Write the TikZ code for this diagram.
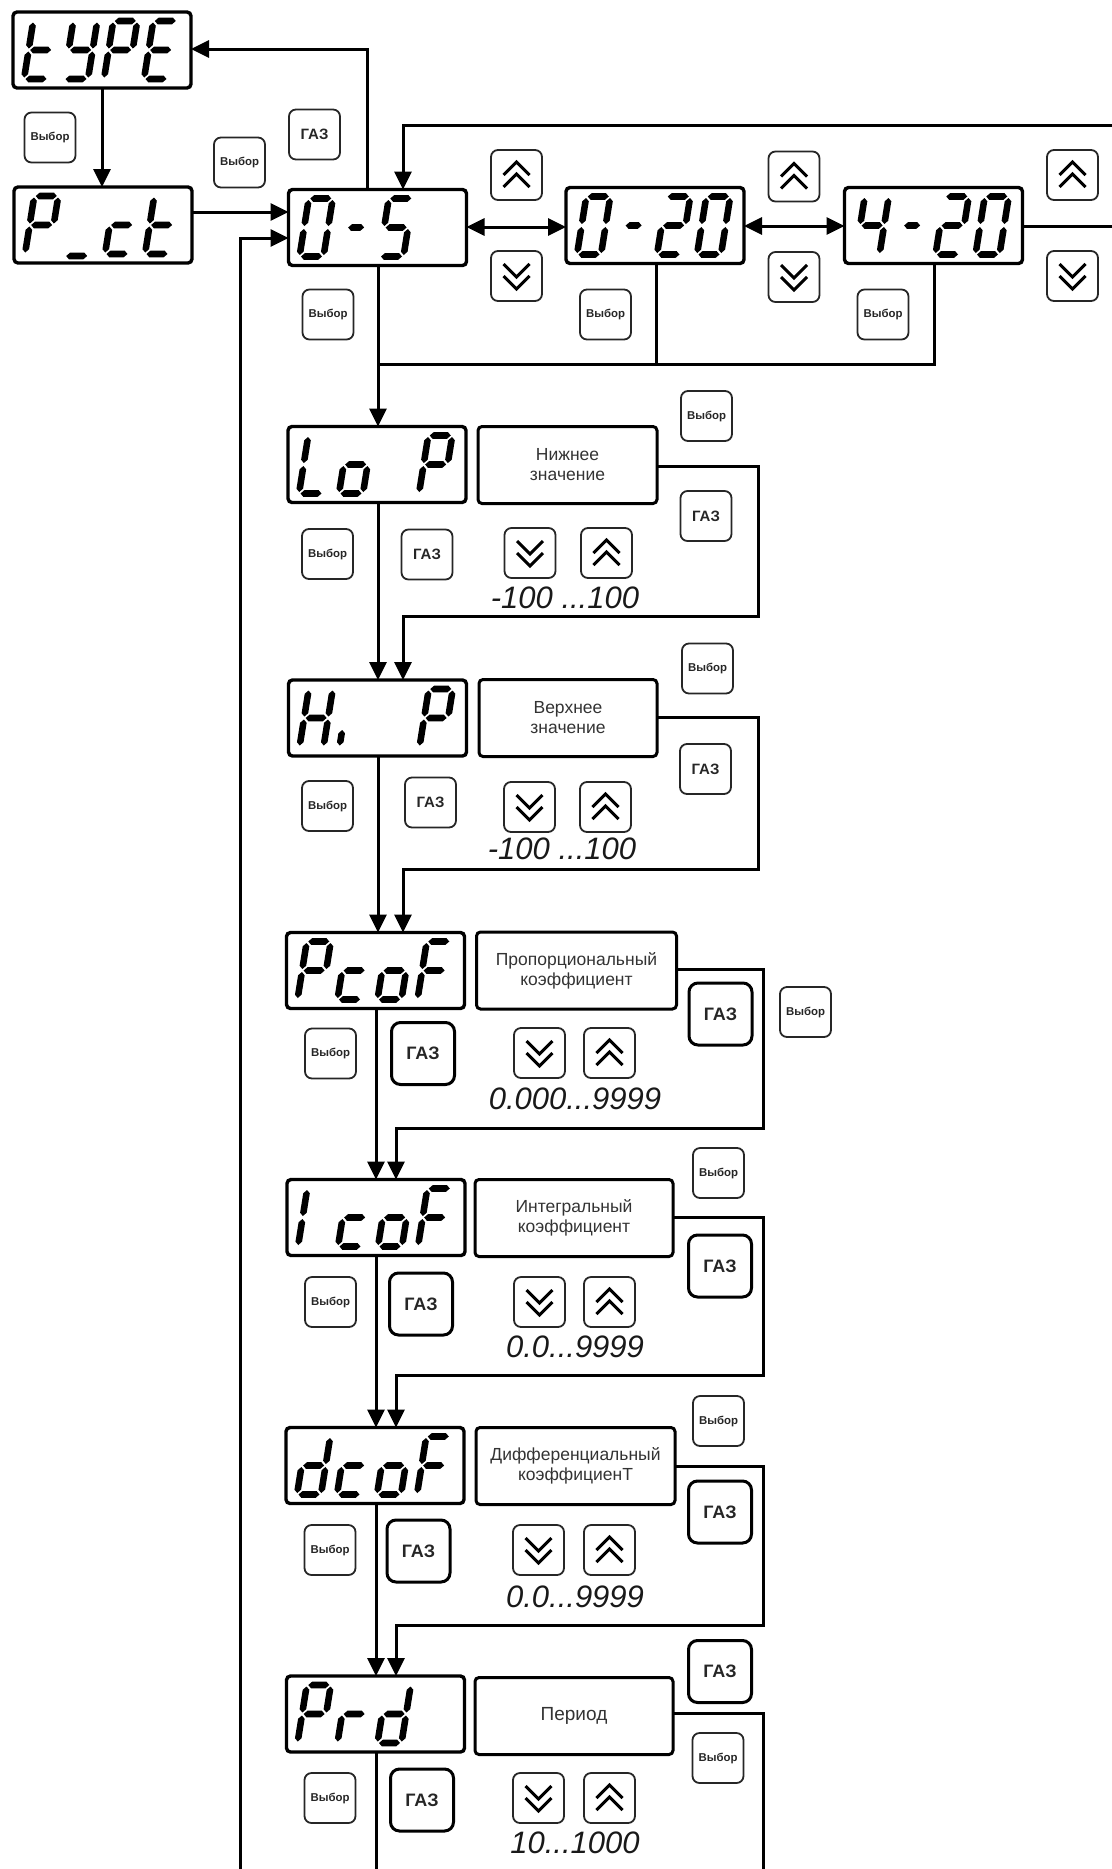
\documentclass[tikz,border=0pt]{standalone}
\usepackage{fontspec}
\setmainfont{Liberation Sans}
\usetikzlibrary{arrows.meta,calc}

% seven-segment pieces (local units: px, y up)
\newcommand\hseg[3]{\fill (#1,#3) -- (#1+3.3,#3+3.3) -- (#2-3.3,#3+3.3) -- (#2,#3) -- (#2-3.3,#3-3.3) -- (#1+3.3,#3-3.3) -- cycle;}
\newcommand\vseg[3]{\fill (#1,#2) -- (#1+3.3,#2+3.3) -- (#1+3.3,#3-3.3) -- (#1,#3) -- (#1-3.3,#3-3.3) -- (#1-3.3,#2+3.3) -- cycle;}
\newcommand\SGa{\hseg{1.5}{22.5}{58}}
\newcommand\SGb{\vseg{24}{30.5}{56.5}}
\newcommand\SGc{\vseg{24}{1.5}{27.5}}
\newcommand\SGd{\hseg{1.5}{22.5}{0}}
\newcommand\SGe{\vseg{0}{1.5}{27.5}}
\newcommand\SGf{\vseg{0}{30.5}{56.5}}
\newcommand\SGg{\hseg{1.5}{22.5}{29}}
\newcommand\SGm{\hseg{4}{20}{29}}
\newcommand\SGi{\vseg{0}{1.5}{17}}
\newcommand\SGu{\hseg{1.5}{22.5}{-2}}
\newcommand\ssd[3]{\begin{scope}[shift={($(#1.south west)+(11+40*#2,-9)$)},x=0.5pt,y=0.5pt,xslant=0.16]\foreach \q in {#3}{\csname SG\q\endcsname}\end{scope}}

\newcommand\UpB[3]{\node[btn] (#1) at (#2,#3) {};
  \draw[chev] ($(#1.center)+(-13,0)$) -- ++(13,-13) -- ++(13,13);
  \draw[chev] ($(#1.center)+(-13,12)$) -- ++(13,-13) -- ++(13,13);}
\newcommand\DnB[3]{\node[btn] (#1) at (#2,#3) {};
  \draw[chev] ($(#1.center)+(-13,0)$) -- ++(13,13) -- ++(13,-13);
  \draw[chev] ($(#1.center)+(-13,-12)$) -- ++(13,13) -- ++(13,-13);}

\tikzset{
  disp/.style={draw, line width=1.7pt, rounded corners=2pt, minimum width=89pt, minimum height=38pt, inner sep=0pt, outer sep=0pt},
  tbox/.style={draw, line width=1.5pt, rounded corners=2pt, minimum height=38.5pt, inner sep=0pt, outer sep=0pt, align=center, font=\fontsize{8.75}{10}\selectfont, text=black!80},
  btn/.style={draw=black!85, line width=0.9pt, rounded corners=3.5pt, minimum width=25.5pt, minimum height=25pt, inner sep=0pt, outer sep=0pt},
  vyb/.style={btn, font=\bfseries\fontsize{5.7}{6}\selectfont, text=black!85},
  gaz/.style={btn, font=\bfseries\fontsize{7.5}{8}\selectfont, text=black!85},
  bigbtn/.style={draw, line width=1.5pt, rounded corners=4.5pt, minimum width=31.5pt, minimum height=31pt, inner sep=0pt, outer sep=0pt, font=\bfseries\fontsize{9}{10}\selectfont, text=black!85},
  wire/.style={line width=1.5pt},
  arr/.style={wire, -{Triangle[length=9pt, width=8.5pt]}},
  arr2/.style={wire, {Triangle[length=9pt, width=8.5pt]}-{Triangle[length=9pt, width=8.5pt]}},
  chev/.style={line width=1.5pt},
  rng/.style={font=\itshape\fontsize{15.5}{16}\selectfont, inner sep=0pt, text=black!90},
}

\begin{document}
\begin{tikzpicture}[x=0.5pt, y=-0.5pt]
\useasboundingbox (0,0) rectangle (1112,1869);

% display boxes
\node[disp] (type) at (102,50) {};
\node[disp] (pct) at (103,225) {};
\node[disp] (d05) at (377.5,227.5) {};
\node[disp] (d020) at (655,225.5) {};
\node[disp] (d420) at (933.5,225.5) {};
\node[disp] (lop) at (377,464.5) {};
\node[disp] (hip) at (377.5,718) {};
\node[disp] (pcof) at (375.5,970.5) {};
\node[disp] (icof) at (376,1217.5) {};
\node[disp] (dcof) at (375,1465.5) {};
\node[disp] (prd) at (375.5,1714) {};

% seven-segment texts
\ssd{type}{0}{d,e,f,g} \ssd{type}{1}{b,c,d,f,g} \ssd{type}{2}{a,b,e,f,g} \ssd{type}{3}{a,d,e,f,g}
\ssd{pct}{0}{a,b,e,f,g} \ssd{pct}{1}{u} \ssd{pct}{2}{d,e,g} \ssd{pct}{3}{d,e,f,g}
\ssd{d05}{0}{a,b,c,d,e,f} \ssd{d05}{1}{m} \ssd{d05}{2}{a,c,d,f,g}
\ssd{d020}{0}{a,b,c,d,e,f} \ssd{d020}{1}{m} \ssd{d020}{2}{a,b,d,e,g} \ssd{d020}{3}{a,b,c,d,e,f}
\ssd{d420}{0}{b,c,f,g} \ssd{d420}{1}{m} \ssd{d420}{2}{a,b,d,e,g} \ssd{d420}{3}{a,b,c,d,e,f}
\ssd{lop}{0}{d,e,f} \ssd{lop}{1}{c,d,e,g} \ssd{lop}{3}{a,b,e,f,g}
\ssd{hip}{0}{b,c,e,f,g} \ssd{hip}{1}{i} \ssd{hip}{3}{a,b,e,f,g}
\ssd{pcof}{0}{a,b,e,f,g} \ssd{pcof}{1}{d,e,g} \ssd{pcof}{2}{c,d,e,g} \ssd{pcof}{3}{a,e,f,g}
\ssd{icof}{0}{e,f} \ssd{icof}{1}{d,e,g} \ssd{icof}{2}{c,d,e,g} \ssd{icof}{3}{a,e,f,g}
\ssd{dcof}{0}{b,c,d,e,g} \ssd{dcof}{1}{d,e,g} \ssd{dcof}{2}{c,d,e,g} \ssd{dcof}{3}{a,e,f,g}
\ssd{prd}{0}{a,b,e,f,g} \ssd{prd}{1}{e,g} \ssd{prd}{2}{b,c,d,e,g}

% text boxes
\node[tbox, minimum width=89.5pt] (t1) at (567.5,465) {Нижнее\\значение};
\node[tbox, minimum width=89pt] (t2) at (568,718) {Верхнее\\значение};
\node[tbox, minimum width=100pt] (t3) at (576.5,970.5) {Пропорциональный\\коэффициент};
\node[tbox, minimum width=99pt] (t4) at (574,1218) {Интегральный\\коэффициент};
\node[tbox, minimum width=99.5pt] (t5) at (575.5,1466) {Дифференциальный\\коэффициенТ};
\node[tbox, minimum width=99pt, font=\fontsize{9.5}{11}\selectfont] (t6) at (574,1716) {Период};

% top section buttons
\node[vyb] (v1) at (50,137.5) {Выбор};
\node[vyb] (v2) at (239.5,162.5) {Выбор};
\node[gaz] (g1) at (314.5,134.5) {ГАЗ};
\UpB{u1}{516.5}{175} \DnB{n1}{516.5}{276}
\UpB{u2}{794}{176.5} \DnB{n2}{794}{277}
\UpB{u3}{1072.5}{175} \DnB{n3}{1072.5}{276}
\node[vyb] (v3) at (328,314.5) {Выбор};
\node[vyb] (v4) at (605.5,314.5) {Выбор};
\node[vyb] (v5) at (883,314.5) {Выбор};

% Lo P
\node[vyb] (v6) at (706.5,416) {Выбор};
\node[gaz] (g2) at (706,516) {ГАЗ};
\node[vyb] (v7) at (327.5,554) {Выбор};
\node[gaz] (g3) at (427,554.5) {ГАЗ};
\DnB{n4}{530}{553} \UpB{u4}{606.5}{553}
\node[rng] (r1) at (565,598) {-100 ...100};

% Hi P
\node[vyb] (v8) at (707.5,668.5) {Выбор};
\node[gaz] (g4) at (705.5,769) {ГАЗ};
\node[vyb] (v9) at (327.5,806) {Выбор};
\node[gaz] (g5) at (430.5,802.5) {ГАЗ};
\DnB{n5}{529.5}{807} \UpB{u5}{605.5}{807}
\node[rng] (r2) at (562,849) {-100 ...100};

% PcoF
\node[bigbtn] (g6) at (720.5,1014) {ГАЗ};
\node[vyb] (v10) at (805.5,1012) {Выбор};
\node[vyb] (v11) at (330.5,1053.5) {Выбор};
\node[bigbtn] (g7) at (423,1053.5) {ГАЗ};
\DnB{n6}{539.5}{1053} \UpB{u6}{609.5}{1053}
\node[rng] (r3) at (575,1099) {0.000...9999};

% IcoF
\node[vyb] (v12) at (718.5,1173) {Выбор};
\node[bigbtn] (g8) at (720,1266) {ГАЗ};
\node[vyb] (v13) at (330.5,1302) {Выбор};
\node[bigbtn] (g9) at (421,1304) {ГАЗ};
\DnB{n7}{539.5}{1302} \UpB{u7}{609.5}{1302}
\node[rng] (r4) at (575,1347) {0.0...9999};

% dcoF
\node[vyb] (v14) at (718.5,1421) {Выбор};
\node[bigbtn] (g10) at (720,1512) {ГАЗ};
\node[vyb] (v15) at (330,1550) {Выбор};
\node[bigbtn] (g11) at (418.5,1551) {ГАЗ};
\DnB{n8}{538.5}{1550} \UpB{u8}{609.5}{1550}
\node[rng] (r5) at (575,1597) {0.0...9999};

% Prd
\node[bigbtn] (g12) at (720,1671.5) {ГАЗ};
\node[vyb] (v16) at (718,1758) {Выбор};
\node[vyb] (v17) at (330,1798) {Выбор};
\node[bigbtn] (g13) at (422,1800) {ГАЗ};
\DnB{n9}{538.5}{1798} \UpB{u9}{609.5}{1798}
\node[rng] (r6) at (575,1843) {10...1000};

% connectors, top section
\draw[arr] (type.south -| 102,0) -- (pct.north -| 102,0);
\draw[arr] (pct.east |- 0,212) -- (d05.west |- 0,212);
\coordinate (lb) at (240,1869);
\draw[arr] (lb) |- (d05.west |- 0,238);
\draw[arr] (d05.north -| 367,0) |- (type.east |- 0,49);
\coordinate (tr) at (1112,125);
\draw[arr] (tr) -| (d05.north -| 403,0);
\draw[arr2] (d05.east |- 0,227) -- (d020.west |- 0,227);
\draw[arr2] (d020.east |- 0,226) -- (d420.west |- 0,226);
\coordinate (rr) at (1112,226);
\draw[wire] (d420.east |- rr) -- (rr);
\coordinate (jn) at (378,364);
\draw[wire] (d020.south -| 656,0) |- (jn);
\draw[wire] (d420.south -| 934,0) |- (jn);
\draw[arr] (d05.south -| jn) -- (lop.north -| jn);

% Lo P / Hi P
\draw[arr] (lop.south -| 378,0) -- (hip.north -| 378,0);
\draw[arr] (t1.east |- 0,466) -| (758,616) -| (hip.north -| 403,0);
\draw[arr] (hip.south -| 378,0) -- (pcof.north -| 378,0);
\draw[arr] (t2.east |- 0,717) -| (758,869) -| (pcof.north -| 403,0);

% lower section
\draw[arr] (pcof.south -| 376,0) -- (icof.north -| 376,0);
\draw[arr] (t3.east |- 0,969) -| (763,1128) -| (icof.north -| 396,0);
\draw[arr] (icof.south -| 376,0) -- (dcof.north -| 376,0);
\draw[arr] (t4.east |- 0,1217) -| (763,1375) -| (dcof.north -| 396,0);
\draw[arr] (dcof.south -| 376,0) -- (prd.north -| 376,0);
\draw[arr] (t5.east |- 0,1466) -| (763,1625) -| (prd.north -| 396,0);
\coordinate (pb) at (376,1869);
\draw[wire] (prd.south -| pb) -- (pb);
\coordinate (qb) at (763,1869);
\draw[wire] (t6.east |- 0,1713) -| (qb);
\end{tikzpicture}
\end{document}
